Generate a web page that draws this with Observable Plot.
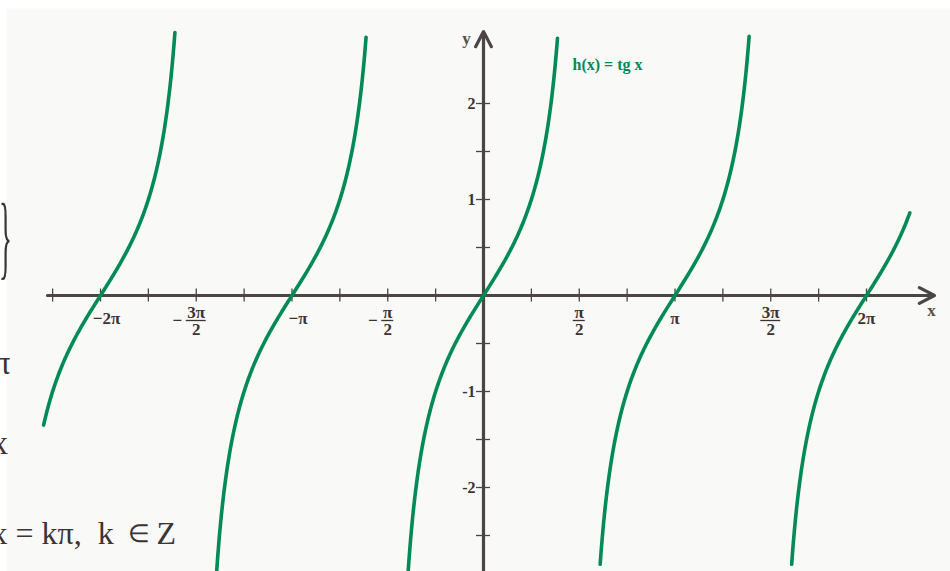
<!DOCTYPE html>
<html>
<head>
<meta charset="utf-8">
<script src="https://cdn.jsdelivr.net/npm/d3@7"></script>
<script src="https://cdn.jsdelivr.net/npm/@observablehq/plot@0.6"></script>
<style>
  html, body { margin: 0; padding: 0; background: #ffffff; }
  #chart svg { display: block; }
</style>
</head>
<body>
<div id="chart"></div>
<script>
const PI = Math.PI;

// Tangent branches: period index k (branch centred on kπ) and the visible y-range of each branch
const branchK = [-2, -1, 0, 1, 2];
const branchYMin = [-1.35, -2.95, -2.95, -2.8, -2.8];
const branchYMax = [2.74, 2.69, 2.68, 2.70, 0.86];

// x axis: small ticks every π/4 (in quarters of π), labels at multiples of π/2 (in halves of π)
const xTickQuarters = [-9, -8, -7, -6, -5, -4, -3, -2, -1, 1, 2, 3, 4, 5, 6, 7, 8];
const xLabelHalves = [-4, -3, -2, -1, 1, 2, 3, 4];
const xLabelSign = ["−", "−", "−", "−", "", "", "", ""];
const xLabelNum = ["2π", "3π", "π", "π", "π", "π", "3π", "2π"];
const xLabelDen = ["", "2", "", "2", "2", "", "2", ""];

// y axis: ticks every 0.5, labels at the integers
const yTickValues = [-2.5, -2, -1.5, -1, -0.5, 0.5, 1, 1.5, 2];
const yLabelValues = [-2, -1, 1, 2];
const yLabelText = ["-2", "-1", "1", "2"];

const curveLabel = "h(x) = tg x";

// ---- geometry of the drawing -----------------------------------------
const W = 950, H = 571;
const X0 = 483, PX_PER_PI = 191.5, XS = PX_PER_PI / PI;   // x: pixels per unit
const Y0 = 295, YS = 96;                                   // y: pixels per unit
const xv = px => (px - X0) / XS;   // pixel -> data helpers for fixed annotations
const yv = px => (Y0 - px) / YS;

const axisColor = "#4b4545";
const textColor = "#3a3434";
const green = "#008a55";
const serif = "'Liberation Serif', 'Times New Roman', serif";

// sample each branch of tan x between its visible limits
const curve = [];
branchK.forEach((k, i) => {
  const t0 = Math.atan(branchYMin[i]), t1 = Math.atan(branchYMax[i]);
  const n = 240;
  for (let j = 0; j <= n; j++) {
    const t = t0 + (t1 - t0) * j / n;
    curve.push({k, x: k * PI + t, y: Math.tan(t)});
  }
});

const xLabels = xLabelHalves.map((h, i) => ({
  v: h * PI / 2, sign: xLabelSign[i], num: xLabelNum[i], den: xLabelDen[i]
}));
const intLabels = xLabels.filter(d => d.den === "");
const fracLabels = xLabels.filter(d => d.den !== "");
const barHalf = d => (d.num.length > 1 ? 10 : 6) / XS;

const tickLen = 6.5;
const lab = {fontSize: 17, fontWeight: "bold", fill: textColor};
const side = {fill: textColor, textAnchor: "start", lineAnchor: "bottom"};

const chart = Plot.plot({
  width: W,
  height: H,
  margin: 0,
  x: {domain: [xv(0), xv(W)], range: [0, W], axis: null},
  y: {domain: [yv(H), yv(0)], range: [H, 0], axis: null},
  style: {background: "transparent", fontFamily: serif},
  marks: [
    // light panel behind the drawing
    Plot.frame({fill: "#f9f9f7", stroke: null, insetLeft: 6, insetTop: 8}),

    // fragments of the surrounding text, cut by the left edge
    Plot.text([0], {x: xv(-7), y: yv(373), text: () => "π", fontSize: 33, ...side}),
    Plot.text([0], {x: xv(-9), y: yv(453), text: () => "x", fontSize: 33, ...side}),
    Plot.text([0], {x: xv(-9), y: yv(543), text: () => "x = kπ,  k", fontSize: 32, ...side}),
    Plot.text([0], {x: xv(127), y: yv(541), text: () => "∈", fontSize: 25, ...side}),
    Plot.text([0], {x: xv(156), y: yv(543), text: () => "Z", fontSize: 32, ...side}),

    // tick marks
    Plot.ruleX(xTickQuarters, {x: d => d * PI / 4, y1: -tickLen / YS, y2: tickLen / YS,
      stroke: axisColor, strokeWidth: 1.3}),
    Plot.ruleY(yTickValues, {y: d => d, x1: -7 / XS, x2: 7 / XS,
      stroke: axisColor, strokeWidth: 1.3}),

    // axes with arrowheads
    Plot.arrow([[xv(47), xv(934)]], {x1: d => d[0], x2: d => d[1], y1: 0, y2: 0,
      stroke: axisColor, strokeWidth: 3.2, headLength: 8, headAngle: 55}),
    Plot.arrow([[yv(H + 5), yv(31)]], {x1: 0, x2: 0, y1: d => d[0], y2: d => d[1],
      stroke: axisColor, strokeWidth: 3.2, headLength: 8, headAngle: 55}),

    // x labels: whole multiples of π
    Plot.text(intLabels.filter(d => d.sign), {x: "v", y: 0, text: d => d.sign + d.num, dx: 6, dy: 23, ...lab}),
    Plot.text(intLabels.filter(d => !d.sign), {x: "v", y: 0, text: "num", dy: 23, ...lab}),
    // x labels: halves of π as stacked fractions
    Plot.text(fracLabels, {x: "v", y: 0, text: "num", dy: 17, ...lab}),
    Plot.ruleY(fracLabels, {y: 0, x1: d => d.v - barHalf(d), x2: d => d.v + barHalf(d), dy: 25,
      stroke: textColor, strokeWidth: 1.3}),
    Plot.text(fracLabels, {x: "v", y: 0, text: "den", dy: 34, ...lab}),
    Plot.text(fracLabels.filter(d => d.sign && d.num.length > 1), {x: "v", y: 0, text: "sign", dx: -19, dy: 25, ...lab}),
    Plot.text(fracLabels.filter(d => d.sign && d.num.length === 1), {x: "v", y: 0, text: "sign", dx: -15, dy: 25, ...lab}),

    // y labels
    Plot.text(yLabelValues, {x: 0, y: d => d, text: (d, i) => yLabelText[i], textAnchor: "end", dx: -8,
      ...lab, fontSize: 16}),

    // axis names
    Plot.text([0], {x: xv(466), y: yv(38), text: () => "y", fontSize: 17, fontWeight: "bold", fill: "#555050"}),
    Plot.text([0], {x: xv(931), y: yv(310), text: () => "x", fontSize: 17, fontWeight: "bold", fill: "#555050"}),

    // the graph of tan x
    Plot.line(curve, {x: "x", y: "y", z: "k", stroke: green, strokeWidth: 3.6, curve: "linear"}),

    // function name
    Plot.text([0], {x: xv(572), y: yv(69), text: () => curveLabel, textAnchor: "start", lineAnchor: "bottom",
      fontSize: 16, fontWeight: "bold", fill: green})
  ]
});

// the tall brace of the surrounding text, stretched vertically
d3.select(chart).append("text")
  .attr("transform", "translate(-1,268) scale(0.9,3.1)")
  .attr("text-anchor", "start")
  .attr("font-family", serif)
  .attr("font-size", 30)
  .attr("fill", textColor)
  .text("}");

document.getElementById("chart").appendChild(chart);
</script>
</body>
</html>
